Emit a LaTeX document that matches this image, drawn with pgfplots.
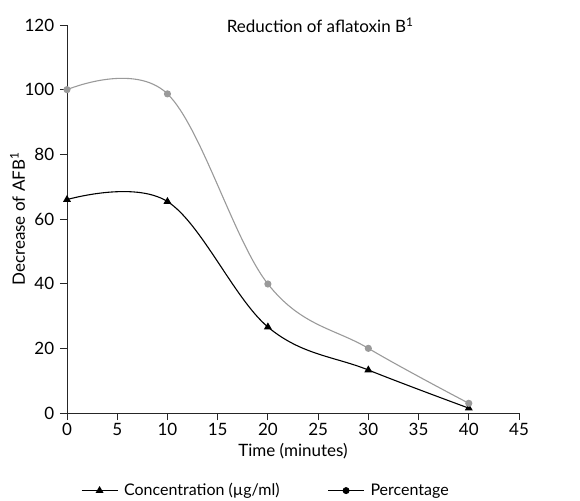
\documentclass[border=0pt]{standalone}
\usepackage{fontspec}
\setmainfont{Lato}
\usepackage{pgfplots}
\pgfplotsset{compat=1.18}
\definecolor{pctgray}{HTML}{9A9A9A}
\begin{document}
\fontsize{17}{20}\selectfont
\begin{tikzpicture}
\begin{axis}[
    at={(0,0)}, anchor=south west,
    scale only axis,
    width=452pt, height=388pt,
    xmin=0, xmax=45, ymin=0, ymax=120,
    xtick={0,5,...,45},
    ytick={0,20,...,120},
    axis lines=left,
    axis line style={-, line width=0.8pt, black!85},
    tick style={line width=0.8pt, black!85},
    tick align=outside,
    major tick length=7pt,
    /pgf/number format/assume math mode=true,
    ticklabel style={font=\fontsize{17}{20}\selectfont},
    xticklabel style={yshift=3pt},
    xlabel={Time (minutes)},
    ylabel={Decrease of AFB\textsuperscript{1}},
    xlabel style={yshift=4pt},
    ylabel style={yshift=-12pt},
    legend style={draw=none, at={(0.44,-0.2)}, anchor=center,
        font=\fontsize{16}{19}\selectfont,
        /tikz/every odd column/.append style={column sep=4pt},
        /tikz/every even column/.append style={column sep=46pt}},
    legend columns=2,
    legend image code/.code={
        \draw[#1, mark repeat=2, mark phase=2] plot coordinates {(0pt,0pt) (18pt,0pt) (36pt,0pt)};
    },
    clip=false,
]
\addplot[black, line width=1.1pt, smooth, tension=0.6, mark=triangle*, mark size=3.5pt, mark options={solid}]
    coordinates {(0,66) (10,65.4) (20,26.6) (30,13.3) (40,1.5)};
\addlegendentry{Concentration (µg/ml)}
\addplot[pctgray, line width=1.1pt, smooth, tension=0.6, mark=*, mark size=3pt, forget plot]
    coordinates {(0,100) (10,98.7) (20,39.9) (30,20) (40,3)};
\addlegendimage{black, line width=0.9pt, mark=*, mark size=3pt}
\addlegendentry{Percentage}
\node[anchor=center] at (axis cs:25.2,120) {Reduction of aflatoxin B\textsuperscript{1}};
\end{axis}
\pgfresetboundingbox
\path (-67pt,-87pt) rectangle (513pt,413pt);
\end{tikzpicture}
\end{document}
